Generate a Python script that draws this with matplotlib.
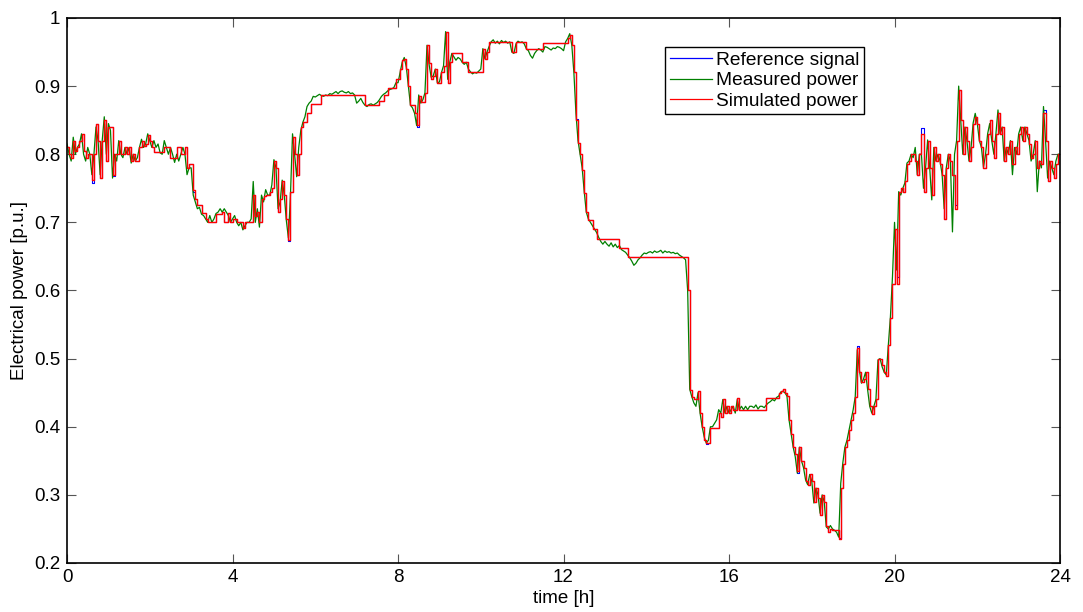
import numpy as np
import matplotlib
matplotlib.use("Agg")
import matplotlib.pyplot as plt

plt.rcParams['font.family'] = ['Liberation Sans', 'DejaVu Sans']

# sample every 0.05 h, 0..24 h
t_hours = np.linspace(0, 24, 481)

measured = [
    0.815, 0.800, 0.790, 0.825, 0.800, 0.810, 0.815, 0.830, 0.800, 0.790, 0.810, 0.800, 0.770, 0.800, 0.840, 0.820, 0.770, 0.820, 0.855, 0.800,
    0.845, 0.835, 0.765, 0.800, 0.790, 0.820, 0.800, 0.795, 0.810, 0.800, 0.810, 0.787, 0.800, 0.790, 0.795, 0.810, 0.822, 0.810, 0.815, 0.830,
    0.820, 0.810, 0.820, 0.810, 0.815, 0.802, 0.800, 0.820, 0.810, 0.800, 0.810, 0.800, 0.788, 0.800, 0.790, 0.800, 0.810, 0.800, 0.770, 0.780,
    0.780, 0.740, 0.730, 0.720, 0.722, 0.712, 0.710, 0.705, 0.700, 0.710, 0.700, 0.705, 0.713, 0.715, 0.720, 0.715, 0.720, 0.715, 0.710, 0.700,
    0.705, 0.710, 0.700, 0.695, 0.700, 0.689, 0.695, 0.700, 0.700, 0.705, 0.760, 0.700, 0.720, 0.693, 0.740, 0.730, 0.748, 0.740, 0.740, 0.755,
    0.792, 0.780, 0.720, 0.730, 0.762, 0.740, 0.703, 0.677, 0.740, 0.830, 0.800, 0.767, 0.810, 0.835, 0.847, 0.855, 0.870, 0.875, 0.878, 0.885,
    0.884, 0.886, 0.888, 0.886, 0.885, 0.887, 0.886, 0.889, 0.888, 0.890, 0.892, 0.889, 0.892, 0.893, 0.891, 0.890, 0.892, 0.889, 0.890, 0.887,
    0.875, 0.878, 0.882, 0.876, 0.872, 0.870, 0.873, 0.874, 0.872, 0.874, 0.876, 0.880, 0.885, 0.888, 0.890, 0.893, 0.895, 0.896, 0.898, 0.905,
    0.905, 0.920, 0.935, 0.942, 0.928, 0.900, 0.872, 0.868, 0.860, 0.842, 0.887, 0.875, 0.880, 0.890, 0.960, 0.932, 0.913, 0.915, 0.925, 0.905,
    0.906, 0.920, 0.930, 0.980, 0.910, 0.935, 0.948, 0.943, 0.938, 0.942, 0.940, 0.935, 0.932, 0.935, 0.925, 0.921, 0.918, 0.920, 0.919, 0.922,
    0.925, 0.955, 0.940, 0.950, 0.958, 0.965, 0.968, 0.963, 0.966, 0.962, 0.967, 0.964, 0.966, 0.963, 0.965, 0.950, 0.948, 0.962, 0.966, 0.964,
    0.965, 0.962, 0.955, 0.952, 0.945, 0.941, 0.948, 0.952, 0.955, 0.953, 0.950, 0.958, 0.957, 0.955, 0.953, 0.956, 0.955, 0.958, 0.957, 0.955,
    0.952, 0.965, 0.970, 0.977, 0.960, 0.920, 0.860, 0.820, 0.800, 0.780, 0.745, 0.715, 0.705, 0.700, 0.695, 0.690, 0.685, 0.678, 0.672, 0.668,
    0.672, 0.668, 0.665, 0.670, 0.664, 0.668, 0.663, 0.666, 0.660, 0.658, 0.656, 0.652, 0.648, 0.643, 0.637, 0.640, 0.645, 0.648, 0.652, 0.655,
    0.654, 0.656, 0.657, 0.655, 0.658, 0.656, 0.657, 0.659, 0.655, 0.658, 0.656, 0.657, 0.655, 0.656, 0.654, 0.655, 0.652, 0.650, 0.648, 0.645,
    0.600, 0.455, 0.444, 0.435, 0.430, 0.450, 0.420, 0.400, 0.385, 0.376, 0.380, 0.400, 0.400, 0.405, 0.410, 0.425, 0.420, 0.440, 0.420, 0.430,
    0.420, 0.425, 0.430, 0.420, 0.440, 0.425, 0.430, 0.425, 0.430, 0.425, 0.430, 0.430, 0.428, 0.432, 0.426, 0.430, 0.430, 0.428, 0.432, 0.435,
    0.437, 0.440, 0.438, 0.443, 0.445, 0.451, 0.452, 0.450, 0.445, 0.410, 0.390, 0.370, 0.356, 0.332, 0.370, 0.350, 0.340, 0.322, 0.315, 0.330,
    0.320, 0.288, 0.310, 0.300, 0.273, 0.300, 0.290, 0.253, 0.250, 0.255, 0.250, 0.248, 0.245, 0.238, 0.317, 0.347, 0.370, 0.380, 0.395, 0.410,
    0.425, 0.444, 0.513, 0.483, 0.464, 0.470, 0.480, 0.454, 0.430, 0.420, 0.430, 0.440, 0.498, 0.500, 0.488, 0.480, 0.476, 0.520, 0.561, 0.620,
    0.700, 0.630, 0.745, 0.740, 0.750, 0.758, 0.787, 0.790, 0.800, 0.795, 0.810, 0.770, 0.800, 0.800, 0.750, 0.780, 0.821, 0.780, 0.733, 0.810,
    0.790, 0.800, 0.790, 0.770, 0.720, 0.780, 0.800, 0.790, 0.686, 0.800, 0.820, 0.900, 0.850, 0.800, 0.840, 0.820, 0.790, 0.810, 0.846, 0.860,
    0.845, 0.820, 0.810, 0.781, 0.800, 0.830, 0.845, 0.820, 0.800, 0.830, 0.865, 0.830, 0.840, 0.790, 0.810, 0.800, 0.820, 0.770, 0.810, 0.800,
    0.830, 0.840, 0.820, 0.840, 0.830, 0.820, 0.790, 0.800, 0.820, 0.745, 0.790, 0.780, 0.870, 0.820, 0.765, 0.790, 0.780, 0.770, 0.790, 0.800,
    0.800,
]

simulated = [
    0.810, 0.800, 0.795, 0.820, 0.805, 0.810, 0.820, 0.830, 0.805, 0.795, 0.800, 0.800, 0.762, 0.800, 0.845, 0.820, 0.765, 0.820, 0.850, 0.790,
    0.840, 0.840, 0.770, 0.800, 0.800, 0.820, 0.800, 0.800, 0.810, 0.800, 0.810, 0.790, 0.800, 0.790, 0.790, 0.810, 0.820, 0.812, 0.815, 0.828,
    0.820, 0.810, 0.803, 0.803, 0.803, 0.803, 0.803, 0.810, 0.810, 0.810, 0.795, 0.795, 0.795, 0.810, 0.810, 0.800, 0.800, 0.810, 0.780, 0.785,
    0.785, 0.748, 0.735, 0.725, 0.725, 0.714, 0.714, 0.705, 0.700, 0.700, 0.700, 0.700, 0.713, 0.713, 0.713, 0.715, 0.700, 0.700, 0.714, 0.700,
    0.705, 0.705, 0.700, 0.700, 0.700, 0.692, 0.700, 0.700, 0.700, 0.700, 0.740, 0.710, 0.715, 0.700, 0.735, 0.738, 0.740, 0.740, 0.745, 0.750,
    0.790, 0.780, 0.715, 0.735, 0.760, 0.740, 0.705, 0.674, 0.745, 0.825, 0.800, 0.770, 0.800, 0.840, 0.847, 0.847, 0.860, 0.860, 0.874, 0.874,
    0.874, 0.874, 0.874, 0.887, 0.887, 0.887, 0.887, 0.887, 0.887, 0.887, 0.887, 0.887, 0.887, 0.887, 0.887, 0.887, 0.887, 0.887, 0.887, 0.887,
    0.887, 0.887, 0.887, 0.887, 0.872, 0.872, 0.872, 0.872, 0.872, 0.872, 0.872, 0.878, 0.878, 0.887, 0.887, 0.897, 0.897, 0.897, 0.897, 0.910,
    0.910, 0.925, 0.938, 0.940, 0.925, 0.900, 0.872, 0.872, 0.860, 0.843, 0.885, 0.876, 0.876, 0.890, 0.960, 0.934, 0.910, 0.915, 0.925, 0.905,
    0.905, 0.920, 0.930, 0.980, 0.905, 0.935, 0.949, 0.949, 0.949, 0.949, 0.949, 0.935, 0.935, 0.935, 0.920, 0.920, 0.920, 0.920, 0.920, 0.920,
    0.920, 0.955, 0.940, 0.950, 0.965, 0.965, 0.965, 0.965, 0.965, 0.965, 0.965, 0.965, 0.965, 0.965, 0.965, 0.950, 0.950, 0.965, 0.965, 0.965,
    0.965, 0.965, 0.955, 0.955, 0.955, 0.955, 0.955, 0.955, 0.955, 0.955, 0.963, 0.963, 0.963, 0.963, 0.963, 0.963, 0.963, 0.963, 0.963, 0.963,
    0.963, 0.963, 0.970, 0.975, 0.960, 0.920, 0.850, 0.816, 0.800, 0.777, 0.743, 0.715, 0.703, 0.703, 0.690, 0.690, 0.676, 0.676, 0.676, 0.676,
    0.676, 0.676, 0.676, 0.676, 0.676, 0.676, 0.676, 0.662, 0.662, 0.662, 0.662, 0.649, 0.649, 0.649, 0.649, 0.649, 0.649, 0.649, 0.649, 0.649,
    0.649, 0.649, 0.649, 0.649, 0.649, 0.649, 0.649, 0.649, 0.649, 0.649, 0.649, 0.649, 0.649, 0.649, 0.649, 0.649, 0.649, 0.649, 0.649, 0.649,
    0.600, 0.454, 0.444, 0.440, 0.440, 0.452, 0.420, 0.400, 0.380, 0.376, 0.376, 0.398, 0.398, 0.398, 0.398, 0.420, 0.415, 0.440, 0.420, 0.430,
    0.420, 0.430, 0.425, 0.425, 0.442, 0.425, 0.425, 0.425, 0.425, 0.425, 0.425, 0.425, 0.425, 0.425, 0.425, 0.425, 0.425, 0.425, 0.442, 0.442,
    0.442, 0.442, 0.442, 0.442, 0.450, 0.452, 0.455, 0.450, 0.445, 0.410, 0.390, 0.370, 0.360, 0.335, 0.370, 0.350, 0.340, 0.320, 0.315, 0.330,
    0.320, 0.290, 0.310, 0.295, 0.270, 0.300, 0.290, 0.255, 0.245, 0.250, 0.248, 0.248, 0.248, 0.235, 0.310, 0.345, 0.370, 0.380, 0.395, 0.410,
    0.420, 0.444, 0.515, 0.480, 0.465, 0.470, 0.480, 0.455, 0.430, 0.418, 0.430, 0.440, 0.500, 0.500, 0.490, 0.480, 0.475, 0.520, 0.560, 0.610,
    0.690, 0.610, 0.745, 0.750, 0.745, 0.760, 0.785, 0.790, 0.800, 0.800, 0.790, 0.770, 0.800, 0.830, 0.745, 0.780, 0.820, 0.780, 0.740, 0.810,
    0.790, 0.800, 0.785, 0.770, 0.705, 0.780, 0.800, 0.790, 0.770, 0.720, 0.820, 0.895, 0.850, 0.800, 0.840, 0.820, 0.790, 0.810, 0.845, 0.855,
    0.845, 0.820, 0.810, 0.780, 0.800, 0.830, 0.850, 0.820, 0.795, 0.830, 0.860, 0.830, 0.840, 0.790, 0.810, 0.800, 0.820, 0.785, 0.810, 0.800,
    0.830, 0.840, 0.820, 0.840, 0.830, 0.815, 0.795, 0.800, 0.820, 0.780, 0.790, 0.785, 0.860, 0.820, 0.760, 0.790, 0.780, 0.765, 0.785, 0.800,
    0.800,
]

reference = [
    0.810, 0.800, 0.795, 0.820, 0.805, 0.810, 0.820, 0.830, 0.805, 0.795, 0.800, 0.800, 0.758, 0.800, 0.845, 0.820, 0.765, 0.820, 0.850, 0.790,
    0.840, 0.840, 0.768, 0.800, 0.800, 0.820, 0.800, 0.800, 0.810, 0.800, 0.810, 0.790, 0.800, 0.790, 0.790, 0.810, 0.820, 0.812, 0.815, 0.828,
    0.820, 0.810, 0.803, 0.803, 0.803, 0.803, 0.803, 0.810, 0.810, 0.810, 0.795, 0.795, 0.795, 0.810, 0.810, 0.800, 0.800, 0.810, 0.780, 0.785,
    0.785, 0.745, 0.735, 0.725, 0.725, 0.714, 0.714, 0.705, 0.700, 0.700, 0.700, 0.700, 0.713, 0.713, 0.713, 0.715, 0.700, 0.700, 0.714, 0.700,
    0.705, 0.705, 0.700, 0.700, 0.700, 0.692, 0.700, 0.700, 0.700, 0.700, 0.740, 0.710, 0.715, 0.700, 0.735, 0.738, 0.740, 0.740, 0.745, 0.750,
    0.790, 0.780, 0.715, 0.735, 0.760, 0.740, 0.705, 0.672, 0.745, 0.825, 0.800, 0.770, 0.800, 0.840, 0.847, 0.847, 0.860, 0.860, 0.874, 0.874,
    0.874, 0.874, 0.874, 0.887, 0.887, 0.887, 0.887, 0.887, 0.887, 0.887, 0.887, 0.887, 0.887, 0.887, 0.887, 0.887, 0.887, 0.887, 0.887, 0.887,
    0.887, 0.887, 0.887, 0.887, 0.872, 0.872, 0.872, 0.872, 0.872, 0.872, 0.872, 0.878, 0.878, 0.887, 0.887, 0.897, 0.897, 0.897, 0.897, 0.910,
    0.910, 0.925, 0.938, 0.940, 0.925, 0.900, 0.872, 0.872, 0.860, 0.840, 0.885, 0.876, 0.876, 0.890, 0.960, 0.934, 0.910, 0.915, 0.925, 0.905,
    0.905, 0.920, 0.930, 0.980, 0.905, 0.935, 0.949, 0.949, 0.949, 0.949, 0.949, 0.935, 0.935, 0.935, 0.920, 0.920, 0.920, 0.920, 0.920, 0.920,
    0.920, 0.955, 0.940, 0.950, 0.965, 0.965, 0.965, 0.965, 0.965, 0.965, 0.965, 0.965, 0.965, 0.965, 0.965, 0.950, 0.950, 0.965, 0.965, 0.965,
    0.965, 0.965, 0.955, 0.955, 0.955, 0.955, 0.955, 0.955, 0.955, 0.955, 0.963, 0.963, 0.963, 0.963, 0.963, 0.963, 0.963, 0.963, 0.963, 0.963,
    0.963, 0.963, 0.970, 0.975, 0.960, 0.920, 0.852, 0.816, 0.800, 0.777, 0.743, 0.715, 0.703, 0.703, 0.690, 0.690, 0.676, 0.676, 0.676, 0.676,
    0.676, 0.676, 0.676, 0.676, 0.676, 0.676, 0.676, 0.662, 0.662, 0.662, 0.662, 0.649, 0.649, 0.649, 0.649, 0.649, 0.649, 0.649, 0.649, 0.649,
    0.649, 0.649, 0.649, 0.649, 0.649, 0.649, 0.649, 0.649, 0.649, 0.649, 0.649, 0.649, 0.649, 0.649, 0.649, 0.649, 0.649, 0.649, 0.649, 0.649,
    0.600, 0.454, 0.444, 0.440, 0.440, 0.452, 0.420, 0.400, 0.380, 0.374, 0.376, 0.398, 0.398, 0.398, 0.398, 0.420, 0.415, 0.440, 0.420, 0.430,
    0.420, 0.430, 0.425, 0.425, 0.442, 0.425, 0.425, 0.425, 0.425, 0.425, 0.425, 0.425, 0.425, 0.425, 0.425, 0.425, 0.425, 0.425, 0.442, 0.442,
    0.442, 0.442, 0.442, 0.442, 0.450, 0.452, 0.455, 0.450, 0.445, 0.410, 0.390, 0.370, 0.360, 0.332, 0.370, 0.350, 0.340, 0.320, 0.315, 0.330,
    0.320, 0.290, 0.310, 0.295, 0.270, 0.300, 0.290, 0.255, 0.245, 0.250, 0.248, 0.248, 0.248, 0.236, 0.310, 0.345, 0.370, 0.380, 0.395, 0.410,
    0.420, 0.444, 0.518, 0.480, 0.465, 0.470, 0.480, 0.455, 0.430, 0.418, 0.430, 0.440, 0.500, 0.500, 0.490, 0.480, 0.475, 0.520, 0.560, 0.610,
    0.690, 0.620, 0.745, 0.750, 0.745, 0.760, 0.785, 0.790, 0.800, 0.800, 0.790, 0.770, 0.800, 0.838, 0.745, 0.780, 0.820, 0.780, 0.740, 0.810,
    0.790, 0.800, 0.785, 0.770, 0.705, 0.780, 0.800, 0.790, 0.770, 0.725, 0.820, 0.895, 0.850, 0.800, 0.840, 0.820, 0.790, 0.810, 0.845, 0.855,
    0.845, 0.820, 0.810, 0.780, 0.800, 0.830, 0.850, 0.820, 0.795, 0.830, 0.860, 0.830, 0.840, 0.790, 0.810, 0.800, 0.820, 0.785, 0.810, 0.800,
    0.830, 0.840, 0.820, 0.840, 0.830, 0.815, 0.795, 0.800, 0.820, 0.780, 0.790, 0.785, 0.865, 0.820, 0.760, 0.790, 0.780, 0.765, 0.785, 0.800,
    0.800,
]

x_ticks = [0, 4, 8, 12, 16, 20, 24]
y_ticks = [0.2, 0.3, 0.4, 0.5, 0.6, 0.7, 0.8, 0.9, 1.0]
y_labels = ['0.2', '0.3', '0.4', '0.5', '0.6', '0.7', '0.8', '0.9', '1']

fig = plt.figure(figsize=(10.83, 6.12), dpi=100)
ax = fig.add_axes([0.0619, 0.0801, 0.9169, 0.8905])

ax.plot(t_hours, reference, color='#0000ff', lw=0.8, drawstyle='steps-post', label='Reference signal')
ax.plot(t_hours, measured, color='#008000', lw=0.9, label='Measured power')
ax.plot(t_hours, simulated, color='#ff0000', lw=1.0, drawstyle='steps-post', label='Simulated power')

ax.set_xlim(0, 24)
ax.set_ylim(0.2, 1.0)
ax.set_xticks(x_ticks)
ax.set_xticklabels([str(v) for v in x_ticks])
ax.set_yticks(y_ticks)
ax.set_yticklabels(y_labels)
ax.tick_params(direction='in', length=6.5, width=0.8, color='#555555',
               top=True, right=True, labelsize=13.5, pad=4)
ax.tick_params(axis='y', pad=5)
for sp in ax.spines.values():
    sp.set_linewidth(1.2)
    sp.set_color('black')

ax.set_xlabel('time [h]', fontsize=13.5, labelpad=3)
ax.set_ylabel('Electrical power [p.u.]', fontsize=13.5, labelpad=4)

leg = ax.legend(loc='upper left', bbox_to_anchor=(0.602, 0.947), fontsize=13.8,
                fancybox=False, framealpha=1, edgecolor='black',
                handlelength=2.2, handletextpad=0.2, borderpad=0.25,
                labelspacing=0.15, borderaxespad=0)
leg.get_frame().set_linewidth(1.0)
for line in leg.get_lines():
    line.set_linewidth(0.9)

fig.savefig('out.png', dpi=100)
